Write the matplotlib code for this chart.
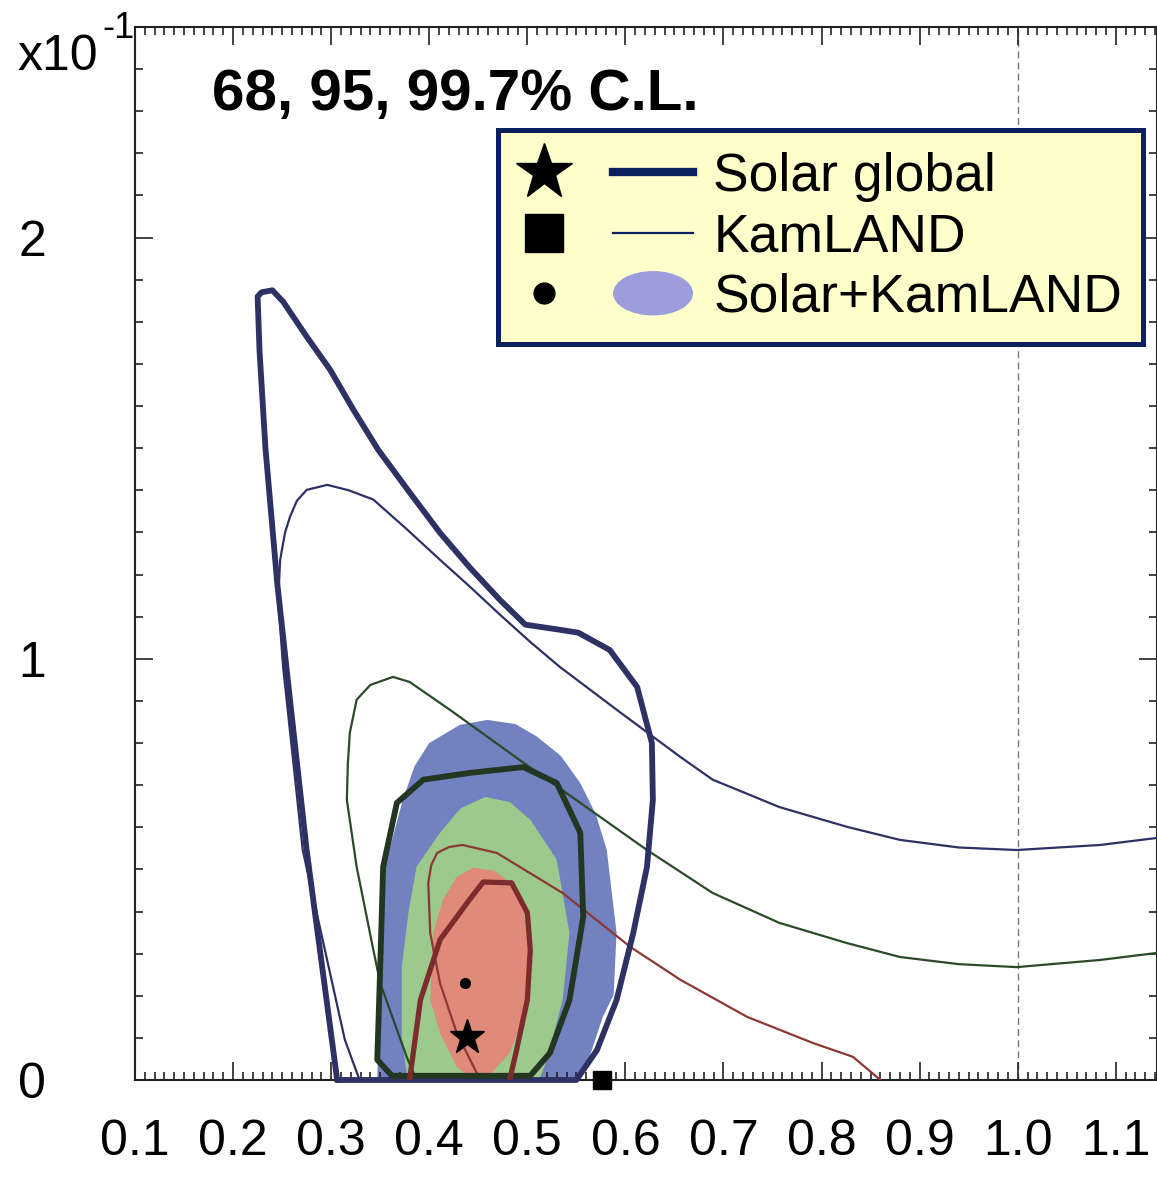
import matplotlib
matplotlib.use("Agg")
import matplotlib.pyplot as plt
from matplotlib.lines import Line2D
from matplotlib.patches import Ellipse
from matplotlib.legend_handler import HandlerBase
from matplotlib.ticker import MultipleLocator

plt.rcParams['font.family'] = ['Liberation Sans', 'DejaVu Sans']

# x = tan^2(theta12), y = sin^2(theta13) in units of 1e-1

# Solar+KamLAND filled regions
sk997_x = [0.347, 0.350, 0.354, 0.373, 0.385, 0.400, 0.431, 0.459, 0.488, 0.510, 0.534, 0.554, 0.570,
           0.581, 0.591, 0.588, 0.577, 0.564, 0.553]
sk997_y = [0.0, 0.27, 0.50, 0.665, 0.745, 0.80, 0.843, 0.855, 0.845, 0.815, 0.77, 0.705, 0.63,
           0.546, 0.349, 0.202, 0.150, 0.059, 0.0]
sk95_x = [0.378, 0.372, 0.372, 0.379, 0.387, 0.411, 0.432, 0.457, 0.482, 0.503, 0.530, 0.543, 0.536,
          0.520, 0.512]
sk95_y = [0.0, 0.10, 0.268, 0.40, 0.506, 0.587, 0.645, 0.672, 0.660, 0.618, 0.523, 0.349, 0.190,
          0.048, 0.0]
sk68_x = [0.445, 0.428, 0.411, 0.401, 0.404, 0.414, 0.428, 0.445, 0.466, 0.479, 0.496, 0.503, 0.496,
          0.482, 0.469, 0.458]
sk68_y = [0.0, 0.031, 0.112, 0.190, 0.349, 0.428, 0.482, 0.504, 0.497, 0.475, 0.411, 0.268, 0.150,
          0.064, 0.031, 0.0]

# Solar global contours (thick)
sg997_x = [0.306, 0.305, 0.275, 0.258, 0.245, 0.233, 0.227, 0.225, 0.229, 0.240, 0.251, 0.275, 0.299,
           0.323, 0.348, 0.380, 0.411, 0.442, 0.472, 0.498, 0.533, 0.552, 0.584, 0.612, 0.627, 0.628,
           0.622, 0.608, 0.591, 0.571, 0.550, 0.306]
sg997_y = [0.0, 0.02, 0.546, 0.903, 1.18, 1.50, 1.73, 1.86, 1.87, 1.875, 1.848, 1.765, 1.686,
           1.59, 1.496, 1.395, 1.299, 1.215, 1.140, 1.081, 1.069, 1.062, 1.021, 0.933, 0.800, 0.665,
           0.506, 0.349, 0.190, 0.071, 0.0, 0.0]
sg95_x = [0.362, 0.347, 0.350, 0.353, 0.367, 0.394, 0.441, 0.496, 0.530, 0.554, 0.557, 0.543, 0.523,
          0.503, 0.362]
sg95_y = [0.01, 0.048, 0.268, 0.506, 0.658, 0.713, 0.729, 0.743, 0.705, 0.587, 0.387, 0.190, 0.064,
          0.01, 0.01]
sg68_x = [0.380, 0.391, 0.411, 0.441, 0.455, 0.484, 0.500, 0.503, 0.500, 0.489, 0.482]
sg68_y = [0.0, 0.190, 0.333, 0.428, 0.470, 0.468, 0.397, 0.309, 0.190, 0.071, 0.0]

# KamLAND contours (thin)
kl997_x = [0.329, 0.314, 0.271, 0.251, 0.246, 0.248, 0.253, 0.258, 0.265, 0.275, 0.296, 0.318, 0.343,
           0.376, 0.411, 0.442, 0.472, 0.503, 0.533, 0.594, 0.656, 0.689, 0.757, 0.826, 0.880, 0.940,
           0.999, 1.084, 1.150]
kl997_y = [0.0, 0.095, 0.546, 0.981, 1.140, 1.235, 1.30, 1.337, 1.375, 1.401, 1.413, 1.40, 1.378,
           1.31, 1.235, 1.17, 1.105, 1.04, 0.981, 0.874, 0.767, 0.713, 0.648, 0.601, 0.570, 0.552,
           0.546, 0.558, 0.577]
kl95_x = [0.387, 0.377, 0.350, 0.343, 0.326, 0.316, 0.317, 0.319, 0.326, 0.340, 0.363, 0.380, 0.421,
          0.492, 0.554, 0.622, 0.689, 0.757, 0.826, 0.880, 0.940, 0.999, 1.084, 1.150]
kl95_y = [0.0, 0.055, 0.230, 0.309, 0.506, 0.665, 0.75, 0.824, 0.903, 0.938, 0.957, 0.945, 0.879,
          0.760, 0.658, 0.546, 0.444, 0.373, 0.325, 0.292, 0.275, 0.268, 0.285, 0.304]
kl68_x = [0.452, 0.428, 0.411, 0.401, 0.399, 0.402, 0.408, 0.420, 0.434, 0.469, 0.536, 0.605, 0.656,
          0.724, 0.791, 0.832, 0.860]
kl68_y = [0.0, 0.112, 0.230, 0.349, 0.468, 0.51, 0.539, 0.553, 0.558, 0.539, 0.444, 0.316, 0.238,
          0.150, 0.088, 0.055, 0.0]

# best fit points
best_solar = (0.438, 0.102)
best_kl = (0.576, 0.0)
best_comb = (0.436, 0.23)

navy = '#2e3164'
c_blue, c_green, c_red = '#7282c0', '#9cc98c', '#e08a7a'

fig = plt.figure(figsize=(11.57, 11.81), dpi=100)
ax = fig.add_axes([135 / 1157, 1 - 1080 / 1181, 1022 / 1157, 1053 / 1181])

ax.fill(sk997_x, sk997_y, color=c_blue, lw=0, zorder=1)
ax.fill(sk95_x, sk95_y, color=c_green, lw=0, zorder=2)
ax.fill(sk68_x, sk68_y, color=c_red, lw=0, zorder=3)

ax.axvline(1.0, color='#777777', ls=(0, (5, 3)), lw=1.0, zorder=0.5)

kw = dict(solid_joinstyle='round', solid_capstyle='round', zorder=4)
ax.plot(kl997_x, kl997_y, color=navy, lw=1.6, **kw)
ax.plot(kl95_x, kl95_y, color='#2a4a2a', lw=1.6, **kw)
ax.plot(kl68_x, kl68_y, color='#8c3834', lw=1.6, **kw)
ax.plot(sg997_x, sg997_y, color=navy, lw=4.2, clip_on=False, **kw)
ax.plot(sg95_x, sg95_y, color='#223622', lw=4.2, **kw)
ax.plot(sg68_x, sg68_y, color='#7c2c2c', lw=3.8, **kw)

ax.plot(*best_solar, marker='*', ms=26, color='k', ls='none', zorder=6)
ax.plot(*best_comb, marker='o', ms=7, color='k', ls='none', zorder=6)
ax.plot(*best_kl, marker='s', ms=13, color='k', ls='none', zorder=6, clip_on=False)

ax.set_xlim(0.1, 1.142)
ax.set_ylim(0, 2.5)
ax.xaxis.set_minor_locator(MultipleLocator(0.01))
ax.yaxis.set_minor_locator(MultipleLocator(0.1))
ax.set_xticks([0.1, 0.2, 0.3, 0.4, 0.5, 0.6, 0.7, 0.8, 0.9, 1.0, 1.1])
ax.set_xticklabels(['0.1', '0.2', '0.3', '0.4', '0.5', '0.6', '0.7', '0.8', '0.9', '1.0', '1.1'])
ax.set_yticks([0, 1, 2])
ax.set_yticklabels(['0', '1', '2'])
ax.tick_params(which='both', direction='in', top=True, right=True, width=1.2, color='#222222')
ax.tick_params(which='major', length=13)
ax.tick_params(which='minor', length=6)
ax.tick_params(axis='x', which='major', labelsize=36, pad=28)
ax.tick_params(axis='y', which='major', labelsize=36, pad=64)
for s in ax.spines.values():
    s.set_linewidth(1.5)
    s.set_color('#222222')

fig.text(17 / 1157, 1 - 70 / 1181, 'x10', fontsize=36, ha='left', va='baseline')
fig.text(102 / 1157, 1 - 38 / 1181, '-1', fontsize=26, ha='left', va='baseline')

ax.text(0.075, 0.935, '68, 95, 99.7% C.L.', transform=ax.transAxes, fontsize=42,
        fontweight='bold', ha='left', va='center')


class Key:
    def __init__(self, marker, ms, lw=None):
        self.marker, self.ms, self.lw = marker, ms, lw


class KeyHandler(HandlerBase):
    def create_artists(self, legend, h, xd, yd, w, hgt, fs, trans):
        y = hgt / 2 - yd
        arts = [Line2D([0.14 * w - xd], [y], marker=h.marker, ms=h.ms, color='k', ls='none',
                       transform=trans)]
        if h.lw:
            arts.append(Line2D([0.54 * w - xd, w - xd], [y, y], lw=h.lw, color='#0c2060',
                               transform=trans))
        else:
            arts.append(Ellipse((0.77 * w - xd, y), 0.46 * w, 32, fc='#9b9ddc', ec='none',
                                transform=trans))
        return arts


keys = [Key('*', 42, 6), Key('s', 28, 1.6), Key('o', 15)]
labels = ['Solar global', 'KamLAND', 'Solar+KamLAND']
leg = ax.legend(keys, labels, handler_map={Key: KeyHandler()}, loc='upper left',
                bbox_to_anchor=(0.355, 0.902), borderaxespad=0, fontsize=38.5,
                handlelength=3.25, handleheight=0.7, handletextpad=0.38, labelspacing=0.2,
                borderpad=0.4, fancybox=False, framealpha=1, facecolor='#ffffcc',
                edgecolor='#0c2060')
leg.get_frame().set_linewidth(3.6)
leg.set_zorder(10)

fig.savefig('out.png', dpi=100)
